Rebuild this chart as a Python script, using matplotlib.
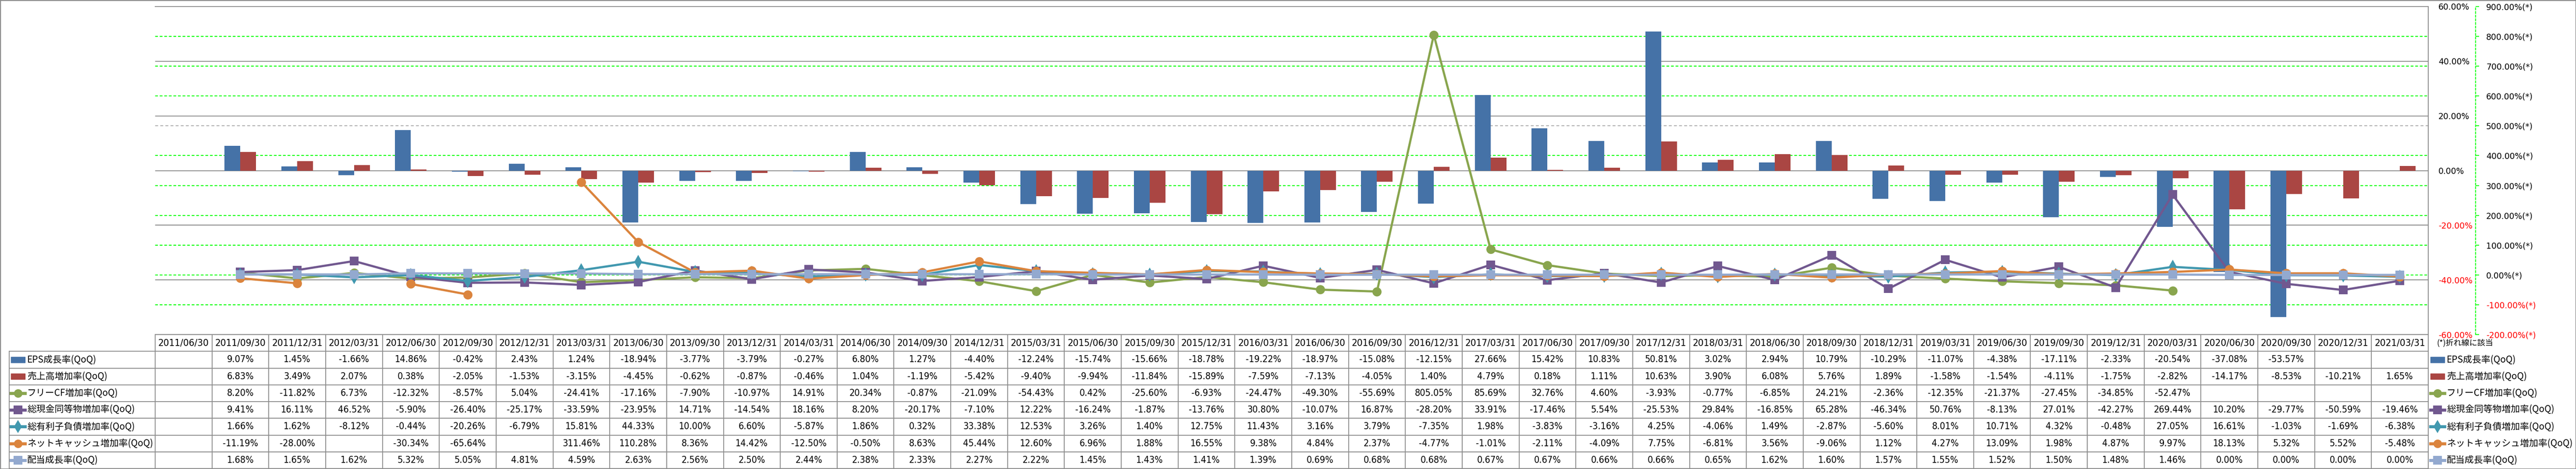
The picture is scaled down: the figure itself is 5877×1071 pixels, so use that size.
import numpy as np
import matplotlib
matplotlib.use('Agg')
import matplotlib.pyplot as plt
from matplotlib.font_manager import FontProperties
from matplotlib.patches import Rectangle
from matplotlib.lines import Line2D

# ---------------- data ----------------
dates = ['2011/06/30', '2011/09/30', '2011/12/31', '2012/03/31', '2012/06/30', '2012/09/30',
         '2012/12/31', '2013/03/31', '2013/06/30', '2013/09/30', '2013/12/31', '2014/03/31',
         '2014/06/30', '2014/09/30', '2014/12/31', '2015/03/31', '2015/06/30', '2015/09/30',
         '2015/12/31', '2016/03/31', '2016/06/30', '2016/09/30', '2016/12/31', '2017/03/31',
         '2017/06/30', '2017/09/30', '2017/12/31', '2018/03/31', '2018/06/30', '2018/09/30',
         '2018/12/31', '2019/03/31', '2019/06/30', '2019/09/30', '2019/12/31', '2020/03/31',
         '2020/06/30', '2020/09/30', '2020/12/31', '2021/03/31']

eps = [None, 9.07, 1.45, -1.66, 14.86, -0.42, 2.43, 1.24, -18.94, -3.77, -3.79, -0.27,
       6.80, 1.27, -4.40, -12.24, -15.74, -15.66, -18.78, -19.22, -18.97, -15.08, -12.15, 27.66,
       15.42, 10.83, 50.81, 3.02, 2.94, 10.79, -10.29, -11.07, -4.38, -17.11, -2.33, -20.54,
       -37.08, -53.57, None, None]
sales = [None, 6.83, 3.49, 2.07, 0.38, -2.05, -1.53, -3.15, -4.45, -0.62, -0.87, -0.46,
         1.04, -1.19, -5.42, -9.40, -9.94, -11.84, -15.89, -7.59, -7.13, -4.05, 1.40, 4.79,
         0.18, 1.11, 10.63, 3.90, 6.08, 5.76, 1.89, -1.58, -1.54, -4.11, -1.75, -2.82,
         -14.17, -8.53, -10.21, 1.65]
fcf = [None, 8.20, -11.82, 6.73, -12.32, -8.57, 5.04, -24.41, -17.16, -7.90, -10.97, 14.91,
       20.34, -0.87, -21.09, -54.43, 0.42, -25.60, -6.93, -24.47, -49.30, -55.69, 805.05, 85.69,
       32.76, 4.60, -3.93, -0.77, -6.85, 24.21, -2.36, -12.35, -21.37, -27.45, -34.85, -52.47,
       None, None, None, None]
cash = [None, 9.41, 16.11, 46.52, -5.90, -26.40, -25.17, -33.59, -23.95, 14.71, -14.54, 18.16,
        8.20, -20.17, -7.10, 12.22, -16.24, -1.87, -13.76, 30.80, -10.07, 16.87, -28.20, 33.91,
        -17.46, 5.54, -25.53, 29.84, -16.85, 65.28, -46.34, 50.76, -8.13, 27.01, -42.27, 269.44,
        10.20, -29.77, -50.59, -19.46]
debt = [None, 1.66, 1.62, -8.12, -0.44, -20.26, -6.79, 15.81, 44.33, 10.00, 6.60, -5.87,
        1.86, 0.32, 33.38, 12.53, 3.26, 1.40, 12.75, 11.43, 3.16, 3.79, -7.35, 1.98,
        -3.83, -3.16, 4.25, -4.06, 1.49, -2.87, -5.60, 8.01, 10.71, 4.32, -0.48, 27.05,
        16.61, -1.03, -1.69, -6.38]
netcash = [None, -11.19, -28.00, None, -30.34, -65.64, None, 311.46, 110.28, 8.36, 14.42, -12.50,
           -0.50, 8.63, 45.44, 12.60, 6.96, 1.88, 16.55, 9.38, 4.84, 2.37, -4.77, -1.01,
           -2.11, -4.09, 7.75, -6.81, 3.56, -9.06, 1.12, 4.27, 13.09, 1.98, 4.87, 9.97,
           18.13, 5.32, 5.52, -5.48]
dividend = [None, 1.68, 1.65, 1.62, 5.32, 5.05, 4.81, 4.59, 2.63, 2.56, 2.50, 2.44,
            2.38, 2.33, 2.27, 2.22, 1.45, 1.43, 1.41, 1.39, 0.69, 0.68, 0.68, 0.67,
            0.67, 0.66, 0.66, 0.65, 1.62, 1.60, 1.57, 1.55, 1.52, 1.50, 1.48, 1.46,
            0.00, 0.00, 0.00, 0.00]

names = ['EPS成長率(QoQ)', '売上高増加率(QoQ)', 'フリーCF増加率(QoQ)', '総現金同等物増加率(QoQ)',
         '総有利子負債増加率(QoQ)', 'ネットキャッシュ増加率(QoQ)', '配当成長率(QoQ)']
left_ticks = [-60, -40, -20, 0, 20, 40, 60]
right_ticks = [-200, -100, 0, 100, 200, 300, 400, 500, 600, 700, 800, 900]
note = '(*)折れ線に該当'

# ---------------- styles ----------------
C_BLUE, C_RED = '#4572A7', '#AA4643'
C_GREEN, C_PURPLE, C_TEAL, C_ORANGE, C_LBLUE = '#89A54E', '#71588F', '#4198AF', '#DB843D', '#93A9CF'
GRID_GRAY = '#8c8c8c'
NEON = '#00FF00'

def arr(v):
    return np.array([np.nan if a is None else a for a in v], dtype=float)

W, H, DPI = 5877, 1071, 100
PL, PR, PT, PB = 354, 5540, 15, 764      # plot area (px)
TL, TB = 21, 1070                        # table left / bottom (px)
RAX = 5648                               # secondary axis line (px)

def fx(px):
    return px / W

def fy(py):
    return 1 - py / H

fig = plt.figure(figsize=(W / DPI, H / DPI), dpi=DPI)
fig.patch.set_facecolor('white')

n = len(dates)
x = np.arange(n)
unit = (PR - PL) / n  # px per category

ax = fig.add_axes([fx(PL), fy(PB), fx(PR) - fx(PL), fy(PT) - fy(PB)])
ax.set_xlim(-0.5, n - 0.5)
ax.set_ylim(left_ticks[0], left_ticks[-1])
ax2 = ax.twinx()
ax2.set_ylim(right_ticks[0], right_ticks[-1])

def r2l(v):
    lo, hi = ax.get_ylim()
    rlo, rhi = ax2.get_ylim()
    return lo + (v - rlo) / (rhi - rlo) * (hi - lo)

# gridlines (all on primary axes, under bars)
for t in left_ticks[1:-1]:
    ax.axhline(t, color=GRID_GRAY, lw=1.4, zorder=0.6)
for v in right_ticks[1:-1]:
    if v == 500:
        ax.axhline(r2l(v), color='#a0a0a0', lw=1.2, ls=(0, (4, 3)), zorder=0.5)
    else:
        ax.axhline(r2l(v), color=NEON, lw=1.5, ls=(0, (3, 2)), zorder=0.5)

# bars
bw = 36 / unit
ax.bar(x - bw / 2, arr(eps), width=bw, color=C_BLUE, zorder=2)
ax.bar(x + bw / 2, arr(sales), width=bw, color=C_RED, zorder=2)

# spines / ticks primary
ax.spines['left'].set_visible(False)
for s in ['top', 'bottom', 'right']:
    ax.spines[s].set_color(GRID_GRAY)
    ax.spines[s].set_linewidth(1.4)
ax.set_xticks([])
ax.yaxis.tick_right()
ax.set_yticks(left_ticks, labels=[f'{t:.2f}%' for t in left_ticks])
ax.tick_params(axis='y', length=0, pad=16.5, labelsize=13.5)
for t, lab in zip(left_ticks, ax.get_yticklabels()):
    lab.set_color('red' if t < 0 else 'black')

# secondary axis
for s in ['left', 'top', 'bottom']:
    ax2.spines[s].set_visible(False)
ax2.spines['right'].set_position(('axes', (RAX - PL) / (PR - PL)))
ax2.spines['right'].set_color(NEON)
ax2.spines['right'].set_linestyle((0, (2, 2)))
ax2.spines['right'].set_linewidth(1.5)
ax2.set_yticks(right_ticks, labels=[f'{t:.2f}%(*)' for t in right_ticks])
ax2.tick_params(axis='y', direction='out', length=5.8, width=1.3, color=NEON, pad=11.5, labelsize=13.5)
for t, lab in zip(right_ticks, ax2.get_yticklabels()):
    lab.set_color('red' if t < 0 else 'black')

# lines
line_specs = [
    (fcf, C_GREEN, 'o', 15),
    (cash, C_PURPLE, 's', 15),
    (debt, C_TEAL, 'd', 16),
    (netcash, C_ORANGE, 'o', 15),
    (dividend, C_LBLUE, 's', 15),
]
for i, (vals, col, mk, ms) in enumerate(line_specs):
    ax2.plot(x, arr(vals), color=col, lw=3.6, marker=mk, markersize=ms,
             markeredgewidth=0, zorder=3 + i, solid_joinstyle='round')

# ---------------- data table ----------------
tax = fig.add_axes([fx(TL), fy(TB), fx(PR) - fx(TL), fy(PB) - fy(TB)])
xmin = -0.5 - (PL - TL) / unit
nrows = 1 + len(names)
tax.set_xlim(xmin, n - 0.5)
tax.set_ylim(nrows, 0)
tax.axis('off')

lc = dict(color=GRID_GRAY, lw=1.4, clip_on=False)
tax.plot([-0.5, n - 0.5], [0, 0], **lc)
for r in range(1, nrows + 1):
    tax.plot([xmin, n - 0.5], [r, r], **lc)
for i in range(n + 1):
    tax.plot([i - 0.5, i - 0.5], [0, nrows], **lc)
tax.plot([xmin, xmin], [1, nrows], **lc)

fp_num = FontProperties(family='DejaVu Sans', stretch='condensed', size=15.5)
fp_date = FontProperties(family='DejaVu Sans', stretch='condensed', size=16)
fp_jp = FontProperties(family=['Noto Sans CJK JP', 'DejaVu Sans'], size=15)
fp_note = FontProperties(family=['Noto Sans CJK JP', 'DejaVu Sans'], size=13)

for i, d in enumerate(dates):
    tax.text(i, 0.5, d, ha='center', va='center', fontproperties=fp_date)

table_series = [eps, sales, fcf, cash, debt, netcash, dividend]
for r, vals in enumerate(table_series):
    for i, v in enumerate(vals):
        if v is not None:
            tax.text(i, r + 1.5, f'{v:.2f}%', ha='center', va='center', fontproperties=fp_num)

# legend keys (table left column and right legend)
key_specs = [('bar', C_BLUE, None, 0), ('bar', C_RED, None, 0),
             ('line', C_GREEN, 'o', 14), ('line', C_PURPLE, 's', 14),
             ('line', C_TEAL, 'd', 15), ('line', C_ORANGE, 'o', 14),
             ('line', C_LBLUE, 's', 14)]
kw = 32 / unit
kh = 13 / (306 / nrows)

def draw_key(x0, yc, spec):
    kind, col, mk, ms = spec
    if kind == 'bar':
        tax.add_patch(Rectangle((x0, yc - kh / 2), kw, kh, color=col, clip_on=False))
    else:
        tax.add_line(Line2D([x0, x0 + kw], [yc, yc], color=col, lw=5, clip_on=False))
        tax.add_line(Line2D([x0 + kw / 2], [yc], color=col, marker=mk, markersize=ms,
                            markeredgewidth=0, clip_on=False))

for r, (nm, spec) in enumerate(zip(names, key_specs)):
    yc = r + 1.5
    draw_key(xmin + 4 / unit, yc, spec)
    tax.text(xmin + 41 / unit, yc, nm, ha='left', va='center', fontproperties=fp_jp)
    draw_key(n - 0.5 + 5 / unit, yc, spec)
    tax.text(n - 0.5 + 42 / unit, yc, nm, ha='left', va='center', fontproperties=fp_jp)

tax.text(n - 0.5 + 19 / unit, 0.5, note, ha='left', va='center', fontproperties=fp_note)

# outer border
fig.add_artist(Rectangle((0, 0), 1, 1, transform=fig.transFigure, fill=False,
                         edgecolor=GRID_GRAY, lw=2.5))

fig.savefig('out.png', dpi=DPI)
